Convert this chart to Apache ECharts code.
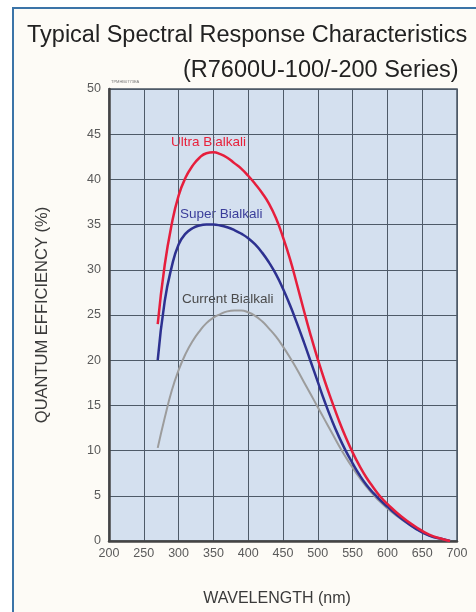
<!DOCTYPE html>
<html><head><meta charset="utf-8">
<script src="https://cdn.jsdelivr.net/npm/echarts@6/dist/echarts.min.js"></script>
<style>html,body{margin:0;padding:0;background:#fff}#c{width:476px;height:612px}</style>
</head><body><div id="c"></div>
<script>
var wavelengths = [270,280,290,300,310,320,330,340,350,360,370,380,390,400,410,420,430,440,450,460,470,480,490,500,510,520,530,540,550,560,570,580,590,600,620,640,660,680,690];
var ultraBialkali = [24,30.5,35,38.2,40.2,41.5,42.4,42.9,43,42.8,42.4,41.8,41.2,40.4,39.5,38.5,37.3,35.7,33.6,31.2,28.4,25.5,22.7,20.1,17.7,15.5,13.4,11.5,9.8,8.3,7,5.9,4.9,4.1,2.7,1.6,0.7,0.2,0];
var superBialkali = [20,26.5,30.3,32.8,34,34.6,34.9,35,35,34.9,34.7,34.4,34,33.5,32.8,31.9,30.8,29.5,27.9,26.1,24.1,22,19.8,17.6,15.4,13.4,11.6,10,8.6,7.3,6.2,5.3,4.5,3.8,2.5,1.4,0.6,0.2,0];
var currentBialkali = [10.3,13.6,16.6,18.9,20.7,22.1,23.2,24.1,24.7,25.1,25.4,25.5,25.5,25.3,24.9,24.3,23.5,22.6,21.5,20.3,19,17.6,16.2,14.8,13.4,12,10.6,9.3,8.1,7,6,5.1,4.3,3.6,2.4,1.4,0.6,0.2,0];
var xTicks = [200,250,300,350,400,450,500,550,600,650,700];
var yTicks = [0,5,10,15,20,25,30,35,40,45,50];

function pairs(v){ return wavelengths.map(function(w,i){return [w,v[i]];}); }

var FONT = '"Liberation Sans", Arial, sans-serif';
var chart = echarts.init(document.getElementById('c'));
var tickColor = '#5a5a5a';
chart.setOption({
  animation:false,
  backgroundColor:'#ffffff',
  graphic:[
    {type:'rect',z:-10,shape:{x:13,y:8,width:480,height:620},style:{fill:'#fdfbf6',stroke:'#3b74a8',lineWidth:2}},
    {type:'text',left:27,top:24,style:{text:'Typical Spectral Response Characteristics',font:'23.5px ' + FONT,fill:'#222'}},
    {type:'text',left:183,top:59,style:{text:'(R7600U-100/-200 Series)',font:'23.5px ' + FONT,fill:'#222'}},
    {type:'text',left:111,top:80,style:{text:'TPMHB0773EA',font:'4px sans-serif',fill:'#777'}},
    {type:'text',left:171,top:135,style:{text:'Ultra Bialkali',font:'13.5px ' + FONT,fill:'#e8203a'}},
    {type:'text',left:180,top:207,style:{text:'Super Bialkali',font:'13.5px ' + FONT,fill:'#3a3d9a'}},
    {type:'text',left:182,top:292,style:{text:'Current Bialkali',font:'13.5px ' + FONT,fill:'#4a4a4a'}}
  ],
  grid:{left:109,right:19,top:89,bottom:71,show:true,backgroundColor:'#d4e0ef',borderColor:'#4a5563',borderWidth:1.5},
  xAxis:{type:'value',min:200,max:700,interval:50,
    name:'WAVELENGTH (nm)',nameLocation:'middle',nameGap:50,
    nameTextStyle:{fontSize:16,color:'#3a3a3a',fontFamily:FONT,padding:[0,12,0,0]},
    axisLine:{show:true,lineStyle:{color:'#444',width:2.5}},
    axisTick:{show:false},
    axisLabel:{color:tickColor,fontSize:12.5,margin:6,fontFamily:FONT,formatter:function(v){return xTicks.indexOf(v)>=0?String(v):'';}},
    splitLine:{show:true,lineStyle:{color:'#4e5a68',width:1}}
  },
  yAxis:{type:'value',min:0,max:50,interval:5,
    name:'QUANTUM EFFICIENCY (%)',nameLocation:'middle',nameGap:58,
    nameTextStyle:{fontSize:16.5,color:'#3a3a3a',fontFamily:FONT},
    axisLine:{show:true,lineStyle:{color:'#444',width:2.5}},
    axisTick:{show:false},
    axisLabel:{color:tickColor,fontSize:12.5,margin:8,fontFamily:FONT,formatter:function(v){return yTicks.indexOf(v)>=0?String(v):'';}},
    splitLine:{show:true,lineStyle:{color:'#4e5a68',width:1}}
  },
  series:[
    {name:'Current Bialkali',type:'line',smooth:true,showSymbol:false,data:pairs(currentBialkali),lineStyle:{color:'#9c9c9c',width:2}},
    {name:'Super Bialkali',type:'line',smooth:true,showSymbol:false,data:pairs(superBialkali),lineStyle:{color:'#2d3190',width:2.5}},
    {name:'Ultra Bialkali',type:'line',smooth:true,showSymbol:false,data:pairs(ultraBialkali),lineStyle:{color:'#e61e3c',width:2.5}}
  ]
});
</script></body></html>
